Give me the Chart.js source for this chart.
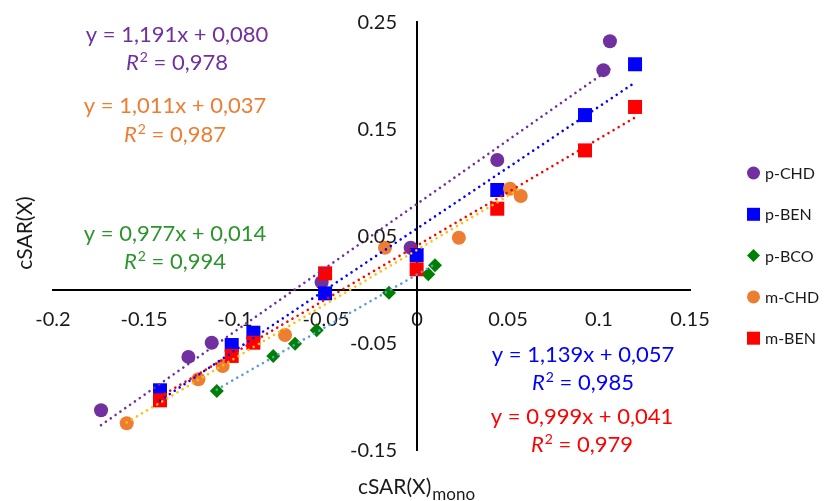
<!DOCTYPE html>
<html><head><meta charset="utf-8">
<script src="https://cdn.jsdelivr.net/npm/chart.js@4"></script>
<style>html,body{margin:0;padding:0;background:#fff;} #wrap{width:828px;height:501px;position:relative}</style>
</head><body><div id="wrap"><canvas id="c" width="828" height="501"></canvas></div>
<script>
// ---- data ----
const seriesNames = ['p-CHD','p-BEN','p-BCO','m-CHD','m-BEN'];
const pCHD_x = [-0.1736,-0.1256,-0.1128,-0.0524,-0.0035,0.0441,0.1024,0.1060];
const pCHD_y = [-0.1129,-0.0630,-0.0497,0.0068,0.0390,0.1210,0.2050,0.2320];
const pBEN_x = [-0.1412,-0.1018,-0.0899,-0.0505,-0.0002,0.0441,0.0923,0.1198];
const pBEN_y = [-0.0942,-0.0519,-0.0404,-0.0036,0.0322,0.0930,0.1630,0.2105];
const pBCO_x = [-0.1100,-0.0790,-0.0670,-0.0551,-0.0154,0.0062,0.0099];
const pBCO_y = [-0.0949,-0.0621,-0.0507,-0.0381,-0.0030,0.0142,0.0226];
const mCHD_x = [-0.1595,-0.1201,-0.1068,-0.0725,-0.0176,0.0230,0.0511,0.0570];
const mCHD_y = [-0.1250,-0.0839,-0.0715,-0.0425,0.0390,0.0484,0.0942,0.0874];
const mBEN_x = [-0.1412,-0.1018,-0.0899,-0.0505,-0.0002,0.0441,0.0923,0.1198];
const mBEN_y = [-0.1036,-0.0621,-0.0497,0.0151,0.0189,0.0755,0.1300,0.1706];
const slopes = [1.191,1.139,0.977,1.011,0.999];
const intercepts = [0.080,0.057,0.014,0.037,0.041];
const r2 = [0.978,0.985,0.994,0.987,0.979];
const xTicks = [-0.2,-0.15,-0.1,-0.05,0,0.05,0.1,0.15];
const yTicks = [-0.15,-0.05,0.05,0.15,0.25];

// ---- styles ----
const FONT = 'Lato, "Open Sans", sans-serif';
const markerColors = ['#7030A0','#0000FF','#008000','#ED7D31','#FF0000'];
const trendColors  = ['#7030A0','#0000FF','#5B9BD5','#FFC000','#FF0000'];
const labelColors  = ['#7030A0','#0000FF','#2A962A','#ED7D31','#FF0000'];
const pointStyles  = ['circle','rect','rectRot','circle','rect'];
const pointRadii   = [7,9.9,7,7,9.9];
// equation label positions: [centerX, baselineEq, baselineR2]
const labelPos = [[177,42,70],[583,362,390],[175,241,269],[175,113,142],[582,424,452]];

const xs = [pCHD_x,pBEN_x,pBCO_x,mCHD_x,mBEN_x];
const ys = [pCHD_y,pBEN_y,pBCO_y,mCHD_y,mBEN_y];

const datasets = [];
seriesNames.forEach((name,i)=>{
  const pts = xs[i].map((x,j)=>({x:x,y:ys[i][j]}));
  datasets.push({
    type:'scatter', label:name, data:pts,
    backgroundColor:markerColors[i], borderColor:markerColors[i], borderWidth:0,
    pointStyle:pointStyles[i], pointRadius:pointRadii[i], pointHoverRadius:pointRadii[i],
    order: 10 - i
  });
});
seriesNames.forEach((name,i)=>{
  const xmin = Math.min(...xs[i]), xmax = Math.max(...xs[i]);
  datasets.push({
    type:'line', label:name+' trend',
    data:[{x:xmin,y:slopes[i]*xmin+intercepts[i]},{x:xmax,y:slopes[i]*xmax+intercepts[i]}],
    borderColor:trendColors[i], borderWidth:2.6, borderDash:[0.01,5.9], borderCapStyle:'round',
    pointRadius:0, fill:false, order: 5 - i
  });
});

const fmt = v => v.toFixed(3).replace('.',',');

const overlay = {
  id:'overlay',
  afterDraw(chart){
    const ctx = chart.ctx;
    ctx.save();
    // y tick labels (values from yTicks, positions from the y scale)
    const xs0 = chart.scales.x.getPixelForValue(0);
    ctx.fillStyle = '#1a1a1a';
    ctx.font = '20px ' + FONT;
    ctx.textAlign = 'right';
    ctx.textBaseline = 'middle';
    yTicks.forEach(v => {
      ctx.fillText(String(v), xs0 - 20, chart.scales.y.getPixelForValue(v) + 1);
    });
    // equations
    seriesNames.forEach((n,i)=>{
      const [cx,b1,b2] = labelPos[i];
      ctx.fillStyle = labelColors[i];
      ctx.textBaseline = 'alphabetic';
      ctx.textAlign = 'center';
      ctx.font = '22px ' + FONT;
      ctx.fillText('y = ' + fmt(slopes[i]) + 'x + ' + fmt(intercepts[i]), cx, b1);
      ctx.textAlign = 'left';
      ctx.font = 'italic 22px ' + FONT;
      const wR = ctx.measureText('R').width;
      ctx.font = '14px ' + FONT;
      const w2 = ctx.measureText('2').width;
      ctx.font = '22px ' + FONT;
      const rest = ' = ' + fmt(r2[i]);
      const wRest = ctx.measureText(rest).width;
      let x0 = cx - (wR + w2 + 1 + wRest)/2;
      ctx.font = 'italic 22px ' + FONT;
      ctx.fillText('R', x0, b2);
      ctx.font = '14px ' + FONT;
      ctx.fillText('2', x0 + wR + 1, b2 - 8);
      ctx.font = '22px ' + FONT;
      ctx.fillText(rest, x0 + wR + w2 + 1, b2);
    });
    // axis titles
    ctx.fillStyle = '#1a1a1a';
    ctx.font = '21px ' + FONT;
    ctx.textAlign = 'left';
    ctx.textBaseline = 'alphabetic';
    const t = 'cSAR(X)';
    ctx.fillText(t, 358, 494);
    const wt = ctx.measureText(t).width;
    ctx.font = '17px ' + FONT;
    ctx.fillText('mono', 358 + wt + 1, 500);
    ctx.save();
    ctx.translate(32, 233);
    ctx.rotate(-Math.PI/2);
    ctx.font = '21px ' + FONT;
    ctx.textAlign = 'center';
    ctx.fillText(t, 0, 0);
    ctx.restore();
    // legend
    const ly0 = 173, lstep = 41.3, lx = 753.5;
    seriesNames.forEach((n,i)=>{
      const y = ly0 + i*lstep;
      ctx.fillStyle = markerColors[i];
      ctx.beginPath();
      if (pointStyles[i]==='circle') { ctx.arc(lx, y, 6.5, 0, Math.PI*2); }
      else if (pointStyles[i]==='rect') { ctx.rect(lx-6.5, y-6.5, 13, 13); }
      else { ctx.moveTo(lx, y-6.5); ctx.lineTo(lx+6.5, y); ctx.lineTo(lx, y+6.5); ctx.lineTo(lx-6.5, y); ctx.closePath(); }
      ctx.fill();
      ctx.fillStyle = '#1a1a1a';
      ctx.font = '16px ' + FONT;
      ctx.textAlign = 'left';
      ctx.textBaseline = 'middle';
      ctx.fillText(n, 765, y + 1);
    });
    ctx.restore();
  }
};

new Chart(document.getElementById('c'), {
  data:{datasets:datasets},
  options:{
    responsive:false, animation:false,
    layout:{padding:{left:53, right:138, top:22, bottom:51}},
    plugins:{legend:{display:false}, tooltip:{enabled:false}},
    scales:{
      x:{type:'linear', position:{y:0}, min:-0.2, max:0.15,
        afterBuildTicks: s => { s.ticks = xTicks.map(v=>({value:v})); },
        grid:{display:false, drawTicks:false},
        border:{display:true, color:'#000', width:2},
        ticks:{autoSkip:false, maxRotation:0, padding:18, color:'#1a1a1a', font:{family:FONT, size:20},
          callback: v => String(v)}
      },
      y:{type:'linear', position:{x:0}, min:-0.15, max:0.25,
        afterBuildTicks: s => { s.ticks = yTicks.map(v=>({value:v})); },
        grid:{display:false, drawTicks:false},
        border:{display:true, color:'#000', width:2},
        ticks:{display:false}
      }
    }
  },
  plugins:[overlay]
});
</script></body></html>
